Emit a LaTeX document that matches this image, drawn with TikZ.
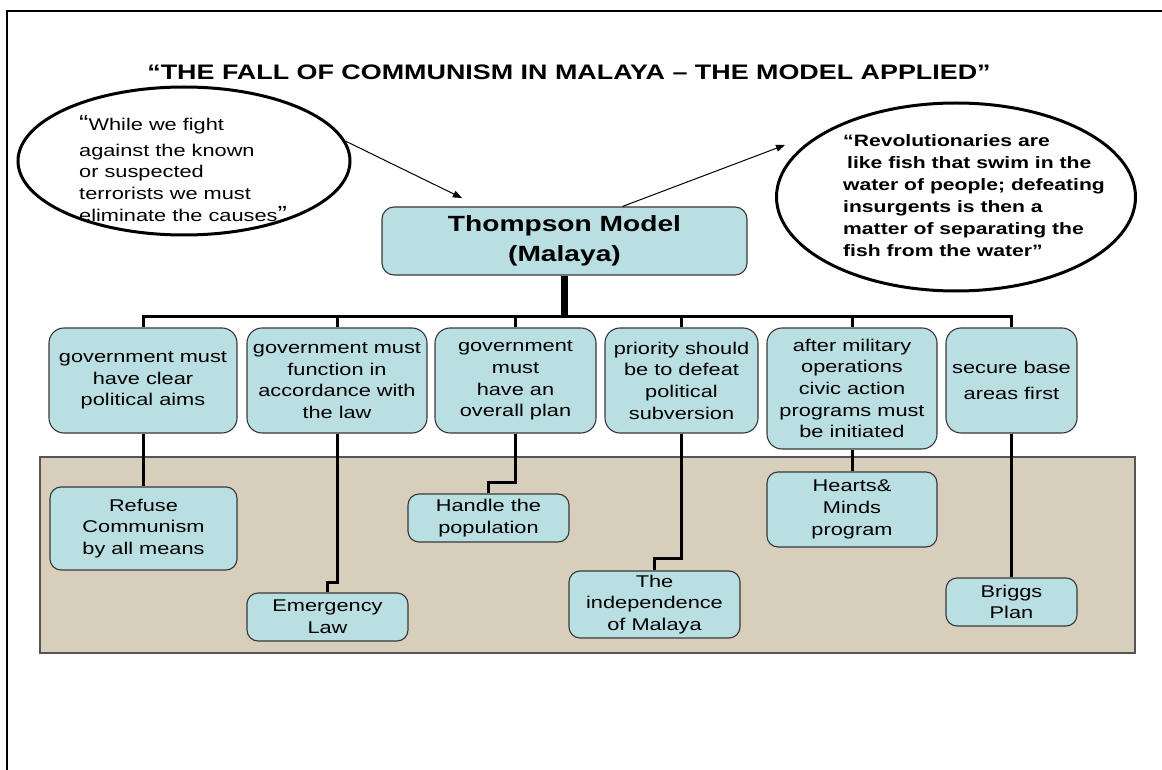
\documentclass[tikz,border=0pt]{standalone}
\usepackage{fontspec}
\setmainfont{Liberation Sans}[FakeStretch=1.28]
\usetikzlibrary{shapes.geometric,arrows.meta,calc}
\definecolor{boxfill}{RGB}{186,223,227}
\definecolor{boxline}{RGB}{55,55,55}
\definecolor{panelfill}{RGB}{216,206,188}
\definecolor{panelline}{RGB}{85,85,85}
\begin{document}
\begin{tikzpicture}[x=1pt,y=-1pt,
  body/.style={font=\fontsize{17}{21.7}\selectfont},
  boldbody/.style={font=\fontsize{16.5}{22}\selectfont\bfseries},
  topbox/.style={draw=boxline,fill=boxfill,rounded corners=15pt,line width=1.1pt,align=center,inner sep=0pt,body},
  lowbox/.style={draw=boxline,fill=boxfill,rounded corners=11pt,line width=1.1pt,align=center,inner sep=0pt,body},
  link/.style={line width=3pt},
  quotebubble/.style={draw,ellipse,line width=3pt,inner sep=0pt},
  pointer/.style={line width=1pt,-{Triangle[length=9pt,width=7pt]}}
]
\useasboundingbox (0,0) rectangle (1162,770);
% frame
\draw[line width=2.5pt] (7,770) -- (7,11) -- (1162,11);
% title
\node[font=\fontsize{21}{25}\selectfont\bfseries] (title) at (569,72) {“THE FALL OF COMMUNISM IN MALAYA – THE MODEL APPLIED”};
% quote bubbles
\node[quotebubble,minimum width=332pt,minimum height=148pt] (le) at (184,161) {};
\node[body,align=left,anchor=north west,inner sep=0pt] (lq) at (79,115)
  {{\fontsize{22}{22}\selectfont “}While we fight\\[4pt]against the known\\or suspected\\terrorists we must\\eliminate the causes{\fontsize{22}{22}\selectfont ”}};
\node[quotebubble,minimum width=359pt,minimum height=188pt] (re) at (956,197) {};
\node[boldbody,align=left,anchor=north west,inner sep=0pt] (rq) at (843,134)
  {“Revolutionaries are\\\hspace*{4pt}like fish that swim in the\\water of people; defeating\\insurgents is then a\\matter of separating the\\fish from the water”};
% main node
\node[draw=boxline,fill=boxfill,rounded corners=12pt,line width=1.1pt,align=center,
      minimum width=365pt,minimum height=68pt,inner sep=0pt,
      font=\fontsize{22}{30}\selectfont\bfseries] (tm) at (564.5,241) {Thompson Model\\(Malaya)};
% panel
\node[draw=panelline,fill=panelfill,line width=1.5pt,minimum width=1095pt,minimum height=196pt,inner sep=0pt] (panel) at (587.5,555) {};
% top boxes
\node[topbox,minimum width=188pt,minimum height=105pt] (b1) at (143,380.5) {government must\\have clear\\political aims};
\node[topbox,minimum width=180pt,minimum height=105pt] (b2) at (337,380.5) {government must\\function in\\accordance with\\the law};
\node[topbox,minimum width=161pt,minimum height=105pt] (b3) at (515.5,380.5) {government\\must\\have an\\overall plan};
\node[topbox,minimum width=153pt,minimum height=105pt] (b4) at (681.5,380.5) {priority should\\be to defeat\\political\\subversion};
\node[topbox,minimum width=170pt,minimum height=121pt] (b5) at (852,388.5) {after military\\operations\\civic action\\programs must\\be initiated};
\node[topbox,minimum width=131pt,minimum height=105pt] (b6) at (1011.5,380.5) {secure base\\[5pt]areas first};
% lower boxes
\node[lowbox,minimum width=187pt,minimum height=83pt] (r1) at (143.5,528.5) {Refuse\\Communism\\by all means};
\node[lowbox,minimum width=161pt,minimum height=48pt] (r2) at (327.5,617) {Emergency\\Law};
\node[lowbox,minimum width=161pt,minimum height=48pt] (r3) at (488.5,518) {Handle the\\population};
\node[lowbox,minimum width=171pt,minimum height=67pt] (r4) at (654.5,604.5) {The\\independence\\of Malaya};
\node[lowbox,minimum width=170pt,minimum height=75pt] (r5) at (852,509.5) {Hearts\&\\Minds\\program};
\node[lowbox,minimum width=131pt,minimum height=48pt] (r6) at (1011.5,602) {Briggs\\Plan};
% helper coordinates
\coordinate (bar) at (0,316);
\coordinate (j2) at (0,582);
\coordinate (j3) at (0,482);
\coordinate (j4) at (0,558);
% tree connectors
\draw[line width=7pt] (tm.south) -- (tm.south |- bar);
\draw[link] (b1.north) -- (b1.north |- bar) -- (b6.north |- bar) -- (b6.north);
\foreach \b in {b2,b3,b4,b5} \draw[link] (\b.north) -- (\b.north |- bar);
\draw[link] (b1.south) -- (b1.south |- r1.north);
\draw[link] (b2.south) |- (r2.north |- j2) -- (r2.north);
\draw[link] (b3.south) |- (r3.north |- j3) -- (r3.north);
\draw[link] (b4.south) |- (r4.north |- j4) -- (r4.north);
\draw[link] (b5.south) -- (r5.north);
\draw[link] (b6.south) -- (r6.north);
% pointers
\coordinate (a1) at (462,198);
\coordinate (a2) at (785,145);
\draw[pointer] (le.7) -- (a1);
\draw[pointer] ($(tm.north)+(58,0)$) -- (a2);
\end{tikzpicture}
\end{document}
